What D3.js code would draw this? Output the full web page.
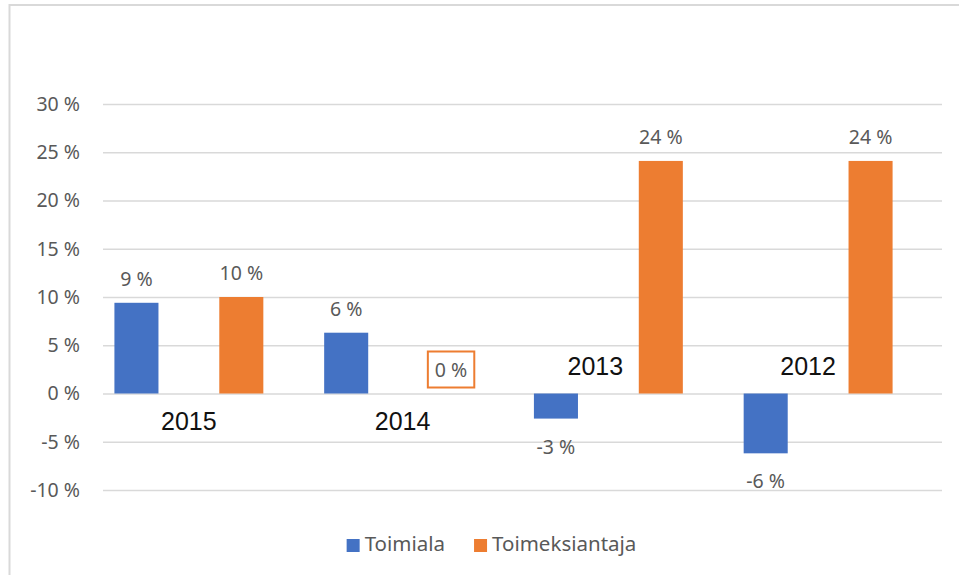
<!DOCTYPE html>
<html>
<head>
<meta charset="utf-8">
<script src="https://cdn.jsdelivr.net/npm/d3@7"></script>
<style>
  body { margin: 0; background: #fff; }
  svg { display: block; font-family: "Noto Sans", "Open Sans", sans-serif; }
</style>
</head>
<body>
<svg width="959" height="575"></svg>
<script>
// data
var years = ["2015", "2014", "2013", "2012"];
var seriesNames = ["Toimiala", "Toimeksiantaja"];
var toimiala = [9.4, 6.3, -2.6, -6.2];
var toimeksiantaja = [10.0, 0, 24.1, 24.1];
var yTicks = [-10, -5, 0, 5, 10, 15, 20, 25, 30];

// year labels were moved by hand in the original, so keep their nudge here
var yearLabelShift = [{dx: 0, dy: 36}, {dx: 4, dy: 36}, {dx: -13, dy: -19}, {dx: -10, dy: -19}];

var colors = {"Toimiala": "#4472C4", "Toimeksiantaja": "#ED7D31"};
var textColor = "#595959";

var svg = d3.select("svg");

svg.append("rect").attr("width", 959).attr("height", 575).attr("fill", "#fff");

// chart frame (cropped on the right and bottom)
svg.append("path")
    .attr("d", "M9.5,575 V5 H959")
    .attr("fill", "none")
    .attr("stroke", "#d9d9d9")
    .attr("stroke-width", 2);

var plotLeft = 103, plotRight = 942;

var y = d3.scaleLinear()
    .domain([-10, 30])
    .range([490, 104]);

// gridlines + y labels
var yAxis = svg.append("g")
    .attr("transform", "translate(" + plotLeft + ",0)")
    .call(d3.axisLeft(y)
        .tickValues(yTicks)
        .tickSizeInner(-(plotRight - plotLeft))
        .tickSizeOuter(0)
        .tickPadding(23)
        .tickFormat(function(d) { return (d < 0 ? "-" : "") + Math.abs(d) + "\u00a0%"; }));

yAxis.select(".domain").remove();
yAxis.selectAll(".tick line")
    .attr("stroke", "#d9d9d9")
    .attr("stroke-width", 1.7);
yAxis.selectAll(".tick text")
    .attr("fill", textColor)
    .attr("font-size", 19.5)
    .attr("font-family", "Noto Sans");

// bars
var x0 = d3.scaleBand()
    .domain(years)
    .range([84, 923]);

var x1 = d3.scaleBand()
    .domain(seriesNames)
    .range([0, x0.bandwidth()])
    .paddingInner(0.58)
    .paddingOuter(0.29);

var rows = years.map(function(yr, i) {
    return {year: yr, values: [
        {name: "Toimiala", value: toimiala[i]},
        {name: "Toimeksiantaja", value: toimeksiantaja[i]}
    ]};
});

var groups = svg.append("g")
    .selectAll("g")
    .data(rows)
    .enter()
    .append("g")
    .attr("transform", function(d) { return "translate(" + x0(d.year) + ",0)"; });

groups.selectAll("rect")
    .data(function(d) { return d.values; })
    .enter()
    .append("rect")
    .attr("x", function(d) { return x1(d.name); })
    .attr("y", function(d) { return y(Math.max(0, d.value)); })
    .attr("width", x1.bandwidth())
    .attr("height", function(d) { return Math.abs(y(d.value) - y(0)); })
    .attr("fill", function(d) { return colors[d.name]; });

// data labels
var labels = groups.selectAll("text.val")
    .data(function(d) { return d.values; })
    .enter()
    .append("text")
    .attr("class", "val")
    .attr("x", function(d) { return x1(d.name) + x1.bandwidth() / 2; })
    .attr("y", function(d) { return d.value < 0 ? y(d.value) + 35 : y(d.value) - 17; })
    .attr("text-anchor", "middle")
    .attr("fill", textColor)
    .attr("font-size", 19.5)
    .text(function(d) { return Math.round(d.value) + "\u00a0%"; });

// the zero label has an outlined box
labels.filter(function(d) { return d.value === 0; })
    .each(function(d) {
        var b = this.getBBox();
        d3.select(this.parentNode).insert("rect", "text")
            .attr("x", b.x - 7)
            .attr("y", b.y - 4)
            .attr("width", b.width + 14)
            .attr("height", b.height + 9)
            .attr("fill", "#fff")
            .attr("stroke", colors["Toimeksiantaja"])
            .attr("stroke-width", 2);
    });

// year labels
svg.append("g")
    .selectAll("text")
    .data(years)
    .enter()
    .append("text")
    .attr("x", function(d, i) { return x0(d) + x0.bandwidth() / 2 + yearLabelShift[i].dx; })
    .attr("y", function(d, i) { return y(0) + yearLabelShift[i].dy; })
    .attr("text-anchor", "middle")
    .attr("fill", "#111")
    .attr("font-size", 25)
    .attr("font-family", "Liberation Sans")
    .text(function(d) { return d; });

// legend
var legend = svg.append("g");
var lx = 0;
seriesNames.forEach(function(name) {
    var item = legend.append("g").attr("transform", "translate(" + lx + ",0)");
    item.append("rect")
        .attr("x", 0).attr("y", -12)
        .attr("width", 13).attr("height", 13)
        .attr("fill", colors[name]);
    var t = item.append("text")
        .attr("x", 18).attr("y", 0)
        .attr("fill", textColor)
        .attr("font-size", 20.5)
        .text(name);
    lx += 18 + t.node().getComputedTextLength() + 29;
});
var lw = legend.node().getBBox().width;
legend.attr("transform", "translate(" + (491.5 - lw / 2) + ",551)");
</script>
</body>
</html>
